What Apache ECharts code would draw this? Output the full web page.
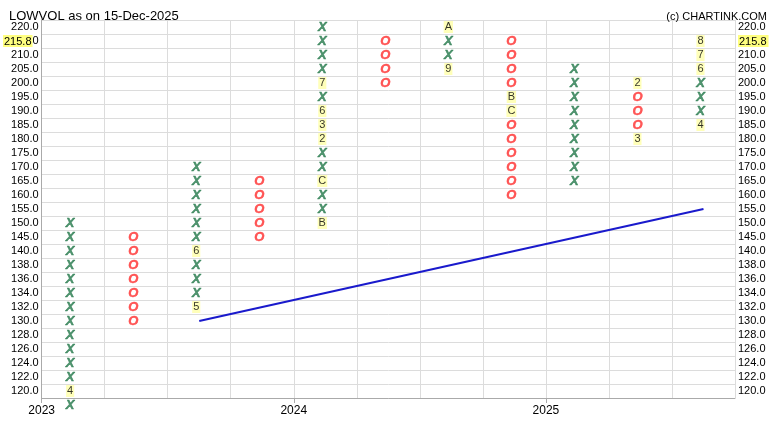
<!DOCTYPE html>
<html>
<head>
<meta charset="utf-8">
<script src="https://cdn.jsdelivr.net/npm/echarts@6/dist/echarts.min.js"></script>
<style>html,body{margin:0;padding:0;background:#fff}#chart{width:778px;height:428px}</style>
</head>
<body>
<div id="chart"></div>
<script>
// Price rows (tick labels), bottom to top
const priceRows = [120,122,124,126,128,130,132,134,136,138,140,145,150,155,160,165,170,175,180,185,190,195,200,205,210,215,220];
const lastPrice = '215.8';
const lastPriceRow = 215;
// Column types
const colType = ['X','O','X','O','X','O','X','O','X','O','X'];
// Boxes filled in each column (prices)
const colBoxes = [
  [118,120,122,124,126,128,130,132,134,136,138,140,145,150],
  [130,132,134,136,138,140,145],
  [132,134,136,138,140,145,150,155,160,165,170],
  [145,150,155,160,165],
  [150,155,160,165,170,175,180,185,190,195,200,205,210,215,220],
  [200,205,210,215],
  [205,210,215,220],
  [160,165,170,175,180,185,190,195,200,205,210,215],
  [165,170,175,180,185,190,195,200,205],
  [180,185,190,195,200],
  [185,190,195,200,205,210,215]
];
// Month markers replacing boxes
const monthMarks = [
  {120:'4'}, {}, {132:'5',140:'6'}, {},
  {150:'B',165:'C',180:'2',185:'3',190:'6',200:'7'},
  {}, {205:'9',220:'A'}, {195:'B',190:'C'}, {},
  {200:'2',180:'3'}, {185:'4',205:'6',210:'7',215:'8'}
];
// Year labels at column boundaries
const yearLabels = {0:'2023',4:'2024',8:'2025'};
// Trend line endpoints [column, price]
const trendLine = [[2,130],[10,155]];

function rowOf(p){
  const i = priceRows.indexOf(p);
  if (i >= 0) return i;
  return (p - priceRows[0]) / 2;
}
const xData = [], oData = [], mData = [];
colBoxes.forEach((boxes, c) => {
  boxes.forEach(p => {
    const m = monthMarks[c][p];
    const pt = [c + 0.5, rowOf(p)];
    if (m) mData.push({value: pt, name: m});
    else if (colType[c] === 'X') xData.push(pt);
    else oData.push(pt);
  });
});
const rowLabels = priceRows.map(p => p.toFixed(1));

const chart = echarts.init(document.getElementById('chart'));
const font = 'Arial, "Liberation Sans", sans-serif';
const markerSeries = (data, text, color) => ({
  type: 'scatter', data: data, clip: false, symbolSize: 1,
  itemStyle: {color: 'rgba(0,0,0,0)'}, silent: true,
  label: {show: true, position: 'inside', offset: [-3, 0], formatter: text,
    color: color, fontSize: 13, fontStyle: 'italic', fontWeight: 'bold', fontFamily: font,
    textBorderColor: color, textBorderWidth: 0.4}
});
chart.setOption({
  animation: false,
  backgroundColor: '#fff',
  title: [
    {text: 'LOWVOL as on 15-Dec-2025', left: 4, top: 5, textStyle: {fontSize: 13, fontWeight: 'normal', color: '#000', fontFamily: font}},
    {text: '(c) CHARTINK.COM', right: 6, top: 6, textStyle: {fontSize: 11, fontWeight: 'normal', color: '#000', fontFamily: font}}
  ],
  grid: {left: 40, right: 43, top: 20, bottom: 30},
  xAxis: [
    {type: 'value', min: 0, max: 11, interval: 1,
     axisLine: {show: true, lineStyle: {color: '#aaa'}}, axisTick: {show: false}, axisLabel: {show: false},
     splitLine: {show: true, lineStyle: {color: '#dcdcdc'}}},
    {type: 'value', position: 'bottom', min: 0, max: 11, interval: 4,
     axisLine: {show: false}, axisTick: {show: true, length: 5, lineStyle: {color: '#aaa'}},
     splitLine: {show: false},
     axisLabel: {show: true, margin: 7, fontSize: 12, color: '#000', fontFamily: font,
       showMaxLabel: false, formatter: v => yearLabels[v] || ''}}
  ],
  yAxis: [
    {type: 'category', data: rowLabels, position: 'left',
     axisLine: {show: true, lineStyle: {color: '#aaa'}}, axisTick: {show: false},
     splitLine: {show: true, lineStyle: {color: '#dcdcdc'}},
     axisLabel: {interval: 0, margin: 3, fontSize: 11, color: '#000', fontFamily: font,
       formatter: v => (+v === lastPriceRow ? '{hl|' + lastPrice + '}0' : v),
       rich: {hl: {backgroundColor: '#ffff80', fontSize: 11, color: '#000', fontFamily: font, padding: [1, 1, 0, 1]}}}},
    {type: 'category', data: rowLabels, position: 'right',
     axisLine: {show: true, lineStyle: {color: '#aaa'}}, axisTick: {show: false},
     splitLine: {show: false},
     axisLabel: {interval: 0, margin: 3, fontSize: 11, color: '#000', fontFamily: font,
       formatter: v => (+v === lastPriceRow ? '{hl|' + lastPrice + '}' : v),
       rich: {hl: {backgroundColor: '#ffff80', fontSize: 11, color: '#000', fontFamily: font, padding: [1, 2, 0, 1]}}}}
  ],
  series: [
    {type: 'line', data: trendLine.map(d => [d[0] + 0.5, rowOf(d[1])]), symbol: 'none', silent: true,
     lineStyle: {color: '#1a1acc', width: 2}},
    markerSeries(xData, 'X', '#23784a'),
    markerSeries(oData, 'O', '#ff2e2e'),
    {type: 'scatter', data: mData, clip: false, symbolSize: 1, silent: true,
     itemStyle: {color: 'rgba(0,0,0,0)'},
     label: {show: true, position: 'inside', offset: [-3, 0], formatter: p => p.name,
       color: '#000', fontSize: 11, fontFamily: font, backgroundColor: '#ffffa8', padding: [1, 1, 0, 1]}}
  ]
});
</script>
</body>
</html>
